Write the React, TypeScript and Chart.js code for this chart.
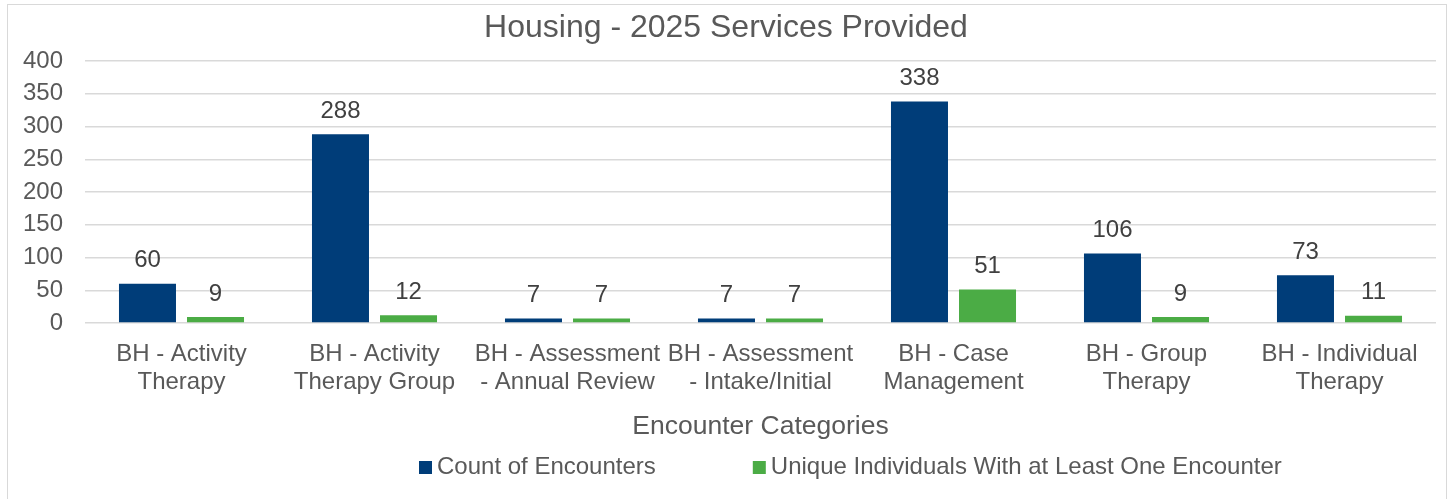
import React, { useEffect, useRef } from "react";
import { Chart, registerables } from "chart.js";

Chart.register(...registerables);

const chartTitle = "Housing - 2025 Services Provided";
const axisTitle = "Encounter Categories";
const categories: string[][] = [
  ["BH - Activity", "Therapy"],
  ["BH - Activity", "Therapy Group"],
  ["BH - Assessment", "- Annual Review"],
  ["BH - Assessment", "- Intake/Initial"],
  ["BH - Case", "Management"],
  ["BH - Group", "Therapy"],
  ["BH - Individual", "Therapy"],
];
const seriesNames = ["Count of Encounters", "Unique Individuals With at Least One Encounter"];
const countOfEncounters = [60, 288, 7, 7, 338, 106, 73];
const uniqueIndividuals = [9, 12, 7, 7, 51, 9, 11];
const seriesColors = ["#003D79", "#4BAC45"];
const yTicks = { min: 0, max: 400, step: 50 };

const FONT = "'Liberation Sans', Arial, sans-serif";
const TEXT = "#595959";

const dataLabelPlugin = {
  id: "dataLabels",
  afterDatasetsDraw(chart: any) {
    const ctx = chart.ctx;
    ctx.save();
    ctx.font = `24px ${FONT}`;
    ctx.fillStyle = "#404040";
    ctx.textAlign = "center";
    ctx.textBaseline = "middle";
    chart.data.datasets.forEach((ds: any, di: number) => {
      const meta = chart.getDatasetMeta(di);
      meta.data.forEach((bar: any, i: number) => {
        ctx.fillText(String(ds.data[i]), bar.x, bar.y - 23);
      });
    });
    ctx.restore();
  },
};

const legendPlugin = {
  id: "customLegend",
  afterDraw(chart: any) {
    const ctx = chart.ctx;
    ctx.save();
    ctx.font = `24px ${FONT}`;
    ctx.textBaseline = "middle";
    ctx.textAlign = "left";
    let x = 419;
    const y = 467.5;
    chart.data.datasets.forEach((ds: any) => {
      ctx.fillStyle = ds.backgroundColor;
      ctx.fillRect(x, y - 6.5, 13, 13);
      ctx.fillStyle = TEXT;
      ctx.fillText(ds.label, x + 18, y);
      x = x + 18 + ctx.measureText(ds.label).width + 97;
    });
    ctx.restore();
  },
};

export default function App() {
  const canvasRef = useRef<HTMLCanvasElement | null>(null);

  useEffect(() => {
    if (!canvasRef.current) return;
    const chart = new Chart(canvasRef.current, {
      type: "bar",
      data: {
        labels: categories,
        datasets: [
          {
            label: seriesNames[0],
            data: countOfEncounters,
            backgroundColor: seriesColors[0],
            categoryPercentage: 0.705,
            barPercentage: 0.838,
          },
          {
            label: seriesNames[1],
            data: uniqueIndividuals,
            backgroundColor: seriesColors[1],
            categoryPercentage: 0.705,
            barPercentage: 0.838,
          },
        ],
      },
      options: {
        animation: false,
        responsive: true,
        maintainAspectRatio: false,
        layout: { padding: { top: 0, left: 16, right: 12, bottom: 56.6 } },
        plugins: {
          legend: { display: false },
          tooltip: { enabled: false },
          title: {
            display: true,
            text: chartTitle,
            color: TEXT,
            font: { family: FONT, size: 32, weight: "normal" },
            padding: { top: 9, bottom: 13.6 },
          },
        },
        scales: {
          x: {
            grid: { display: false },
            border: { display: false },
            ticks: {
              color: TEXT,
              font: { family: FONT, size: 24, lineHeight: 1.15 },
              padding: 10,
              autoSkip: false,
              maxRotation: 0,
              minRotation: 0,
            },
            title: {
              display: true,
              text: axisTitle,
              color: TEXT,
              font: { family: FONT, size: 26.5 },
              padding: { top: 0, bottom: 0 },
            },
            afterFit(scale: any) {
              scale.height = 119.4;
            },
          },
          y: {
            min: yTicks.min,
            max: yTicks.max,
            grid: { color: "#D9D9D9", lineWidth: 1.5, drawTicks: false },
            border: { display: false },
            ticks: {
              stepSize: yTicks.step,
              color: TEXT,
              font: { family: FONT, size: 24 },
              padding: 22,
            },
            afterFit(scale: any) {
              scale.width = 69;
            },
          },
        },
      },
      plugins: [dataLabelPlugin, legendPlugin],
    } as any);
    return () => chart.destroy();
  }, []);

  return (
    <>
      <div
        style={{
          position: "fixed",
          left: 7,
          top: 4,
          width: 1440,
          height: 520,
          boxSizing: "border-box",
          border: "1.5px solid #D9D9D9",
          background: "#FFFFFF",
        }}
      />
      <div style={{ position: "fixed", left: 0, top: 0, width: 1448, height: 499 }}>
        <canvas ref={canvasRef} />
      </div>
    </>
  );
}
